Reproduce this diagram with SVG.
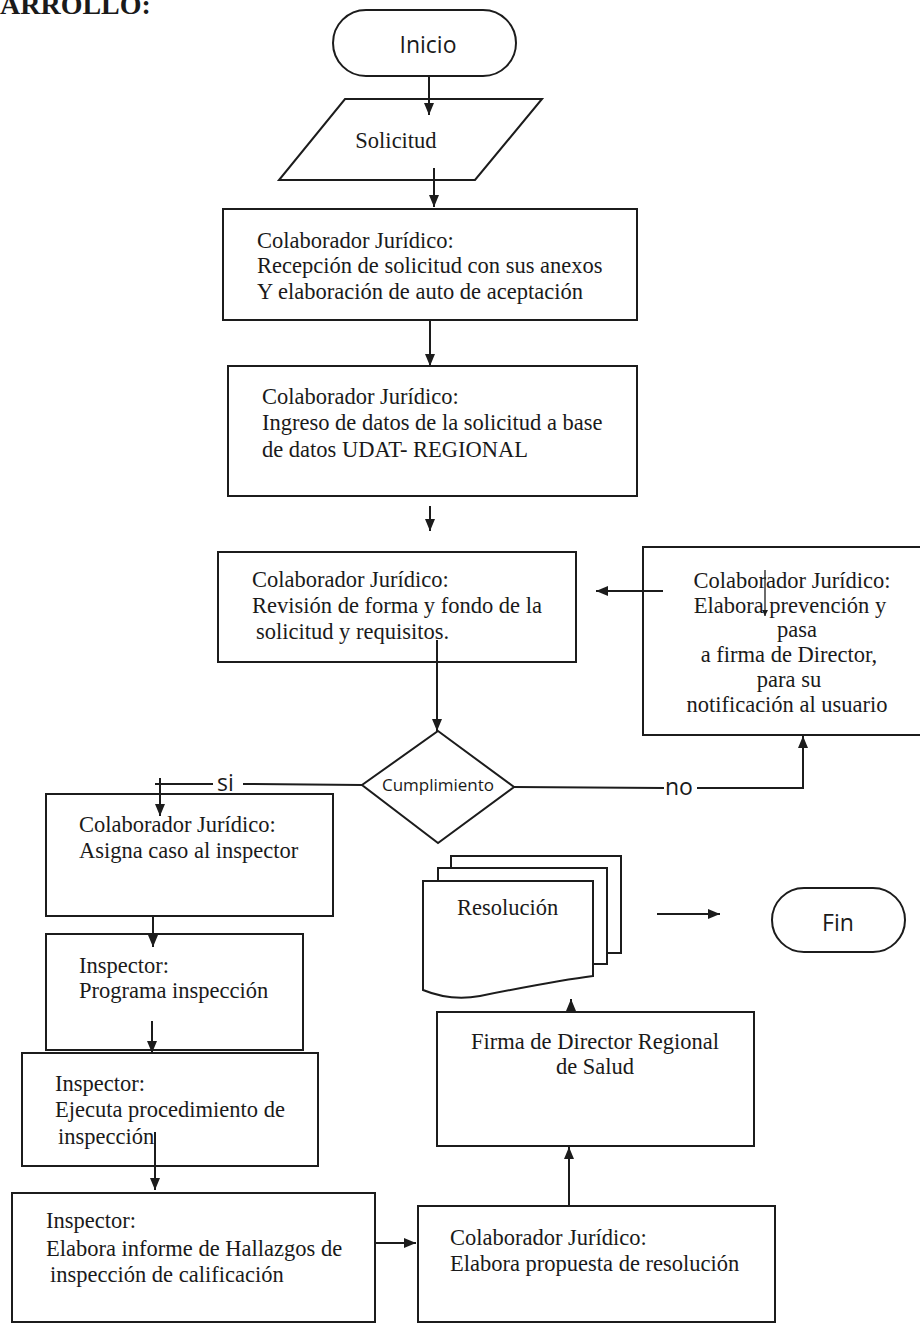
<svg xmlns="http://www.w3.org/2000/svg" width="920" height="1325" viewBox="0 0 920 1325">
<style>
.b{fill:#fff;stroke:#1c1c1c;stroke-width:2}
.t{font-family:"Liberation Serif","Times New Roman",serif;font-size:22.5px;fill:#1a1a1a}
.s{font-family:"Open Sans","Liberation Sans",sans-serif;fill:#1a1a1a}
.c{fill:none;stroke:#1c1c1c;stroke-width:2}
.m{text-anchor:middle}
</style>
<defs>
<marker id="ah" viewBox="0 0 12 10" refX="12" refY="5" markerWidth="12" markerHeight="10" markerUnits="userSpaceOnUse" orient="auto">
<path d="M0,0 L12,5 L0,10 z" fill="#1c1c1c"/>
</marker>
<marker id="ahs" viewBox="0 0 8 8" refX="8" refY="4" markerWidth="6" markerHeight="6" markerUnits="userSpaceOnUse" orient="auto">
<path d="M0,0 L8,4 L0,8 z" fill="#1c1c1c"/>
</marker>
</defs>
<rect width="920" height="1325" fill="#fff"/>
<text x="0" y="14" style="font-family:'Liberation Serif',serif;font-weight:bold;font-size:28px;fill:#1a1a1a">ARROLLO:</text>

<g id="inicio">
<rect class="b" x="333" y="10" width="183" height="66" rx="33"/>
<text class="s m" x="428" y="53" font-size="23">Inicio</text>
</g>
<g id="solicitud">
<polygon class="b" points="345,99 542,99 475,180 279,180"/>
<text class="t m" x="396" y="148">Solicitud</text>
</g>
<g id="recepcion">
<rect class="b" x="223" y="209" width="414" height="111"/>
<text class="t" x="257" y="248">Colaborador Jurídico:</text>
<text class="t" x="257" y="273">Recepción de solicitud con sus anexos</text>
<text class="t" x="257" y="299">Y elaboración de auto de aceptación</text>
</g>
<g id="ingreso">
<rect class="b" x="228" y="366" width="409" height="130"/>
<text class="t" x="262" y="404">Colaborador Jurídico:</text>
<text class="t" x="262" y="430">Ingreso de datos de la solicitud a base</text>
<text class="t" x="262" y="457">de datos UDAT- REGIONAL</text>
</g>
<g id="revision">
<rect class="b" x="218" y="552" width="358" height="110"/>
<text class="t" x="252" y="587">Colaborador Jurídico:</text>
<text class="t" x="252" y="613">Revisión de forma y fondo de la</text>
<text class="t" x="256" y="639">solicitud y requisitos.</text>
</g>
<g id="prevencion">
<rect class="b" x="643" y="547" width="300" height="188"/>
<text class="t m" x="792" y="588">Colaborador Jurídico:</text>
<text class="t m" x="790" y="613">Elabora prevención y</text>
<text class="t m" x="797" y="637">pasa</text>
<text class="t m" x="789" y="662">a firma de Director,</text>
<text class="t m" x="789" y="687">para su</text>
<text class="t m" x="787" y="712">notificación al usuario</text>
</g>
<g id="cumplimiento">
<polygon class="b" points="438,731 514,787 438,843 362,785"/>
<text class="s m" x="438" y="791" font-size="17">Cumplimiento</text>
</g>
<g id="asigna">
<rect class="b" x="46" y="794" width="287" height="122"/>
<text class="t" x="79" y="832">Colaborador Jurídico:</text>
<text class="t" x="79" y="858">Asigna caso al inspector</text>
</g>
<g id="programa">
<rect class="b" x="46" y="934" width="257" height="116"/>
<text class="t" x="79" y="973">Inspector:</text>
<text class="t" x="79" y="998">Programa inspección</text>
</g>
<g id="ejecuta">
<rect class="b" x="22" y="1053" width="296" height="113"/>
<text class="t" x="55" y="1091">Inspector:</text>
<text class="t" x="55" y="1117">Ejecuta procedimiento de</text>
<text class="t" x="58" y="1144">inspección</text>
</g>
<g id="informe">
<rect class="b" x="12" y="1193" width="363" height="129"/>
<text class="t" x="46" y="1228">Inspector:</text>
<text class="t" x="46" y="1256">Elabora informe de Hallazgos de</text>
<text class="t" x="50" y="1282">inspección de calificación</text>
</g>
<g id="propuesta">
<rect class="b" x="418" y="1206" width="357" height="116"/>
<text class="t" x="450" y="1245">Colaborador Jurídico:</text>
<text class="t" x="450" y="1271">Elabora propuesta de resolución</text>
</g>
<g id="firma">
<rect class="b" x="437" y="1012" width="317" height="134"/>
<text class="t m" x="595" y="1049">Firma de Director Regional</text>
<text class="t m" x="595" y="1074">de Salud</text>
</g>
<g id="resolucion">
<rect class="b" x="451" y="856" width="170" height="97"/>
<rect class="b" x="438" y="868" width="169" height="96"/>
<path class="b" d="M423,881 H593 V976 C560,980 520,988 480,996 C458,1000 440,997 423,990 Z"/>
<text class="t" x="457" y="915">Resolución</text>
</g>
<g id="fin">
<rect class="b" x="772" y="888" width="133" height="64" rx="32"/>
<text class="s m" x="838" y="931" font-size="23">Fin</text>
</g>

<g id="connectors">
<line class="c" x1="429" y1="77" x2="429" y2="115" marker-end="url(#ah)"/>
<line class="c" x1="434" y1="168" x2="434" y2="207" marker-end="url(#ah)"/>
<line class="c" x1="430" y1="320" x2="430" y2="366" marker-end="url(#ah)"/>
<line class="c" x1="430" y1="506" x2="430" y2="531" marker-end="url(#ah)"/>
<line class="c" x1="663" y1="591" x2="596" y2="591" marker-end="url(#ah)"/>
<line class="c" x1="437" y1="640" x2="437" y2="731" marker-end="url(#ah)"/>
<line class="c" x1="362" y1="785" x2="243" y2="784"/>
<text class="s" x="217" y="791" font-size="23">si</text>
<line class="c" x1="213" y1="784" x2="155" y2="784"/>
<line class="c" x1="160" y1="778" x2="160" y2="816" marker-end="url(#ah)"/>
<line class="c" x1="514" y1="787" x2="664" y2="788"/>
<text class="s" x="665" y="795" font-size="23">no</text>
<polyline class="c" points="697,788 803,788 803,736" marker-end="url(#ah)"/>
<line x1="765" y1="570" x2="765" y2="616" stroke="#1c1c1c" stroke-width="1.3" marker-end="url(#ahs)"/>
<line class="c" x1="153" y1="916" x2="153" y2="947" marker-end="url(#ah)"/>
<line class="c" x1="152" y1="1021" x2="152" y2="1053" marker-end="url(#ah)"/>
<line class="c" x1="155" y1="1132" x2="155" y2="1190" marker-end="url(#ah)"/>
<line class="c" x1="375" y1="1243" x2="416" y2="1243" marker-end="url(#ah)"/>
<line class="c" x1="569" y1="1206" x2="569" y2="1147" marker-end="url(#ah)"/>
<line class="c" x1="571" y1="1012" x2="571" y2="999" marker-end="url(#ah)"/>
<line class="c" x1="657" y1="914" x2="720" y2="914" marker-end="url(#ah)"/>
</g>
</svg>
